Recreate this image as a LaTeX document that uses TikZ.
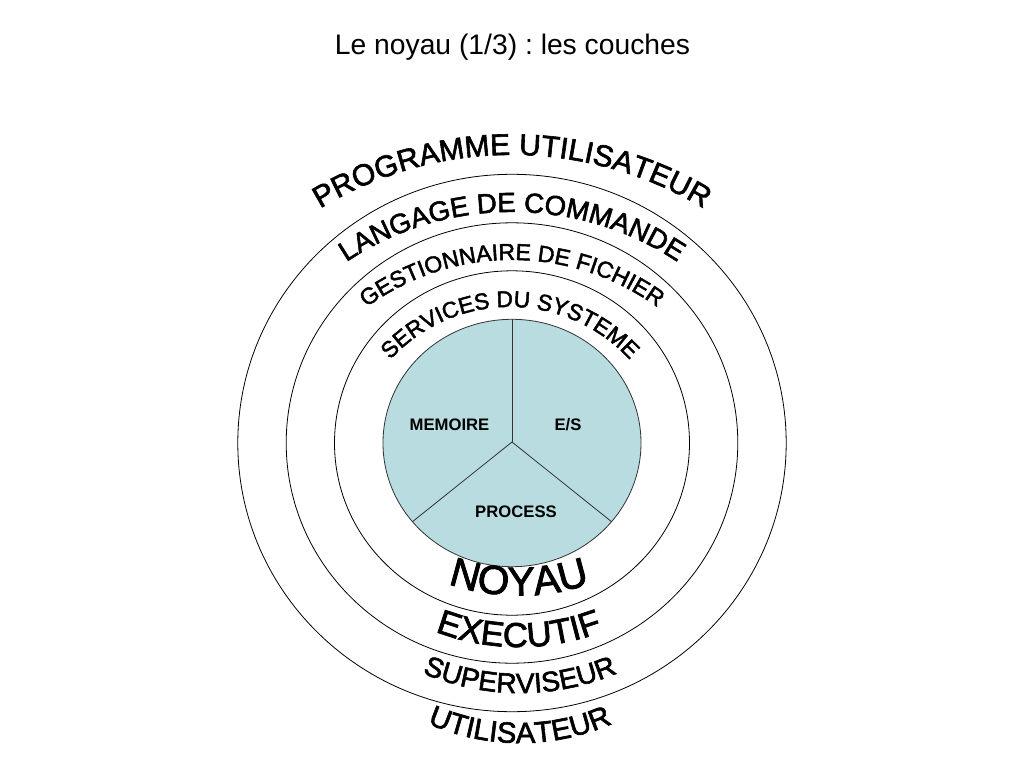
\documentclass[tikz,border=0pt]{standalone}
\usepackage{fontspec}
\setmainfont{Liberation Sans}
\newfontfamily\arcfont{Liberation Sans}[FakeBold=2]
\usetikzlibrary{decorations.text}
\definecolor{noyaubleu}{RGB}{184,220,224}

\begin{document}
\begin{tikzpicture}[x=0.75pt, y=0.75pt,
    couche/.style={draw=black, line width=0.6pt},
    rayon/.style={draw=black!80, line width=0.6pt},
    part/.style={font=\fontsize{12.5}{15}\selectfont\bfseries}]
  \fill[white] (-512,-325) rectangle (512,443);
  \useasboundingbox (-512,-325) rectangle (512,443);

  % titre
  \node (titre) [anchor=base, font=\fontsize{21.2}{25}\selectfont] at (0.5,388) {\frenchspacing Le noyau (1/3) : les couches};

  % couches
  \draw[couche] (0,0) ellipse [x radius=274.2, y radius=268.7];
  \draw[couche] (0,0) ellipse [x radius=225.8, y radius=220.2];
  \draw[couche] (0,0) ellipse [x radius=177.5, y radius=172.2];

  % noyau
  \coordinate (centre) at (0,1);
  \draw[rayon, fill=noyaubleu] (0,0) ellipse [x radius=129, y radius=123.7];
  \draw[rayon] (centre) -- (90:123.7);
  \draw[rayon] (centre) -- (219.5:129 and 123.7);
  \draw[rayon] (centre) -- (-39.5:129 and 123.7);
  \node (memoire) [part, anchor=base] at (-62.5,13) {MEMOIRE};
  \node (es) [part, anchor=base] at (56,13) {E/S};
  \node (process) [part, anchor=base] at (4,-74.7) {PROCESS};

  % textes du haut
  \path[shift={(0,-82)}, decorate, decoration={text along path, text align=center,
    text={|\arcfont\fontsize{22.5}{27}\selectfont|PROGRAMME UTILISATEUR}}] (170:370) arc[start angle=170, end angle=10, radius=370];
  \path[shift={(0,-68)}, decorate, decoration={text along path, text align=center,
    text={|\arcfont\fontsize{20.7}{25}\selectfont|LANGAGE DE COMMANDE}}] (170:299) arc[start angle=170, end angle=10, radius=299];
  \path[shift={(0,-64)}, decorate, decoration={text along path, text align=center,
    text={|\arcfont\fontsize{17.3}{21}\selectfont|GESTIONNAIRE DE FICHIER}}] (170:247) arc[start angle=170, end angle=10, radius=247];
  \path[shift={(-2,-26)}, decorate, decoration={text along path, text align=center,
    text={|\arcfont\fontsize{17.1}{21}\selectfont|SERVICES DU SYSTEME}}] (170:162) arc[start angle=170, end angle=10, radius=162];

  % textes du bas
  \path[shift={(7,67.5)}, decorate, decoration={text along path, text align=center,
    text={|\arcfont\fontsize{30.5}{36}\selectfont|NOYAU}}] (200:220) arc[start angle=200, end angle=340, radius=220];
  \path[shift={(7,31)}, decorate, decoration={text along path, text align=center,
    text={|\arcfont\fontsize{26}{31}\selectfont|EXECUTIF}}] (200:235) arc[start angle=200, end angle=340, radius=235];
  \path[shift={(8,0)}, decorate, decoration={text along path, text align=center,
    text={|\arcfont\fontsize{21}{25}\selectfont|SUPERVISEUR}}] (200:250) arc[start angle=200, end angle=340, radius=250];
  \path[shift={(8,-69)}, decorate, decoration={text along path, text align=center,
    text={|\arcfont\fontsize{22}{26}\selectfont|UTILISATEUR}}] (200:231) arc[start angle=200, end angle=340, radius=231];
\end{tikzpicture}
\end{document}
